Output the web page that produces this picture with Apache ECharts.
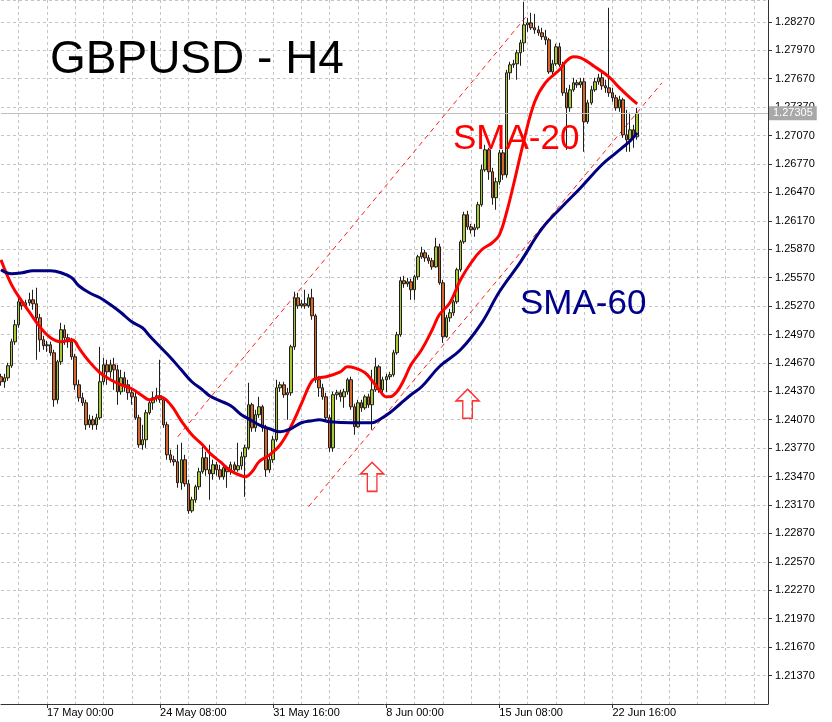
<!DOCTYPE html>
<html><head><meta charset="utf-8">
<script src="https://cdn.jsdelivr.net/npm/echarts@6/dist/echarts.min.js"></script>
<style>html,body{margin:0;padding:0;background:#fff}#c{width:832px;height:722px}</style>
</head><body><div id="c"></div>
<script>
// ---- data (GBPUSD H4) ----
const opens = [
1.24524,1.24471,1.24513,1.24640,1.24893,1.25072,1.25315,1.25273,1.25304,1.25336,
1.25294,1.25146,1.24914,1.24851,1.24861,1.24777,1.24281,1.24682,1.25020,1.24935,
1.24893,1.24735,1.24439,1.24302,1.24249,1.24017,1.24070,1.24017,1.24091,1.24471,
1.24650,1.24576,1.24650,1.24597,1.24365,1.24513,1.24439,1.24355,1.24312,1.24091,
1.23806,1.23859,1.24144,1.24249,1.24302,1.24323,1.24281,1.24017,1.23700,1.23648,
1.23627,1.23405,1.23648,1.23394,1.23109,1.23225,1.23363,1.23521,1.23669,1.23542,
1.23500,1.23595,1.23542,1.23468,1.23563,1.23521,1.23595,1.23542,1.23584,1.23679,
1.23774,1.24228,1.23985,1.24123,1.24207,1.23985,1.23542,1.23648,1.23859,1.24407,
1.24439,1.24334,1.24355,1.24840,1.25357,1.25273,1.25294,1.25273,1.25357,1.25167,
1.24492,1.24407,1.24312,1.24091,1.23774,1.24334,1.24355,1.24312,1.24365,1.24492,
1.24207,1.23996,1.24249,1.24196,1.24312,1.24228,1.24386,1.24629,1.24386,1.24492,
1.24524,1.24545,1.24777,1.24967,1.25537,1.25505,1.25526,1.25442,1.25579,1.25790,
1.25832,1.25779,1.25748,1.25684,1.25895,1.25515,1.24946,1.25146,1.25199,1.25315,
1.25653,1.25948,1.26233,1.26106,1.26075,1.26096,1.26339,1.26708,1.26919,1.26687,
1.26413,1.26581,1.26887,1.26655,1.27732,1.27816,1.27827,1.27943,1.28048,1.28238,
1.28259,1.28207,1.28185,1.28154,1.28112,1.28080,1.27742,1.27827,1.28006,1.27816,
1.27521,1.27362,1.27552,1.27626,1.27605,1.27637,1.27215,1.27415,1.27552,1.27637,
1.27679,1.27594,1.27573,1.27521,1.27468,1.27362,1.27447,1.27077,1.27025,1.27130,1.27056];
const closes = [
1.24471,1.24513,1.24640,1.24893,1.25072,1.25315,1.25273,1.25304,1.25336,1.25294,
1.25146,1.24914,1.24851,1.24861,1.24777,1.24281,1.24682,1.25020,1.24935,1.24893,
1.24735,1.24439,1.24302,1.24249,1.24017,1.24070,1.24017,1.24091,1.24471,1.24650,
1.24576,1.24650,1.24597,1.24365,1.24513,1.24439,1.24355,1.24312,1.24091,1.23806,
1.23859,1.24144,1.24249,1.24302,1.24323,1.24281,1.24017,1.23700,1.23648,1.23627,
1.23405,1.23648,1.23394,1.23109,1.23225,1.23363,1.23521,1.23669,1.23542,1.23500,
1.23595,1.23542,1.23468,1.23563,1.23521,1.23595,1.23542,1.23584,1.23679,1.23774,
1.24228,1.23985,1.24123,1.24207,1.23985,1.23542,1.23648,1.23859,1.24407,1.24439,
1.24334,1.24355,1.24840,1.25357,1.25273,1.25294,1.25273,1.25357,1.25167,1.24492,
1.24407,1.24312,1.24091,1.23774,1.24334,1.24355,1.24312,1.24365,1.24492,1.24207,
1.23996,1.24249,1.24196,1.24312,1.24228,1.24386,1.24629,1.24386,1.24492,1.24524,
1.24545,1.24777,1.24967,1.25537,1.25505,1.25526,1.25442,1.25579,1.25790,1.25832,
1.25779,1.25748,1.25684,1.25895,1.25515,1.24946,1.25146,1.25199,1.25315,1.25653,
1.25948,1.26233,1.26106,1.26075,1.26096,1.26339,1.26708,1.26919,1.26687,1.26413,
1.26581,1.26887,1.26655,1.27732,1.27816,1.27827,1.27943,1.28048,1.28238,1.28259,
1.28207,1.28185,1.28154,1.28112,1.28080,1.27742,1.27827,1.28006,1.27816,1.27521,
1.27362,1.27552,1.27626,1.27605,1.27637,1.27215,1.27415,1.27552,1.27637,1.27679,
1.27594,1.27573,1.27521,1.27468,1.27362,1.27447,1.27077,1.27025,1.27130,1.27056,1.27305];
const lows = [
1.24429,1.24407,1.24481,1.24618,1.24861,1.25041,1.25231,1.25241,1.25273,1.25231,
1.24703,1.24787,1.24808,1.24787,1.24745,1.24207,1.24239,1.24650,1.24861,1.24830,
1.24703,1.24386,1.24260,1.24217,1.23964,1.23985,1.23964,1.23964,1.24070,1.24439,
1.24439,1.24513,1.24386,1.24228,1.24334,1.24365,1.24281,1.24228,1.24070,1.23774,
1.23753,1.23774,1.24123,1.24175,1.24260,1.24249,1.23985,1.23648,1.23616,1.23584,
1.23352,1.23331,1.23363,1.23078,1.23088,1.23194,1.23331,1.23500,1.23479,1.23225,
1.23437,1.23479,1.23437,1.23437,1.23352,1.23489,1.23510,1.23521,1.23542,1.23257,
1.23753,1.23943,1.23943,1.24091,1.23943,1.23468,1.23510,1.23616,1.23838,1.24365,
1.24302,1.24070,1.24323,1.24808,1.25241,1.25252,1.25241,1.25252,1.25125,1.24460,
1.24312,1.24281,1.24059,1.23732,1.23732,1.24281,1.24260,1.24196,1.24334,1.24175,
1.23911,1.23985,1.24154,1.24175,1.24196,1.23964,1.24365,1.24355,1.24355,1.24365,
1.24492,1.24524,1.24756,1.24946,1.25463,1.25473,1.25336,1.25336,1.25547,1.25769,
1.25737,1.25716,1.25653,1.25674,1.25494,1.24882,1.24935,1.25104,1.25167,1.25294,
1.25632,1.25927,1.26075,1.26033,1.26001,1.26075,1.26318,1.26687,1.26602,1.26339,
1.26286,1.26550,1.26602,1.26624,1.27658,1.27784,1.27658,1.27806,1.27953,1.28164,
1.28185,1.28143,1.28122,1.28080,1.28027,1.27721,1.27711,1.27806,1.27795,1.27489,
1.26919,1.27320,1.27531,1.27573,1.27573,1.26898,1.27193,1.27394,1.27531,1.27605,
1.27552,1.27521,1.27478,1.27426,1.27331,1.27320,1.27046,1.26898,1.26898,1.26940,1.27025];
const highs = [
1.24555,1.24555,1.24671,1.24925,1.25125,1.25368,1.25347,1.25336,1.25410,1.25442,
1.25463,1.25188,1.24956,1.24903,1.24893,1.24808,1.24703,1.25093,1.25072,1.24977,
1.24935,1.24766,1.24492,1.24355,1.24281,1.24123,1.24112,1.24133,1.24840,1.24724,
1.24703,1.24703,1.24724,1.24650,1.24597,1.24576,1.24492,1.24407,1.24365,1.24123,
1.24017,1.24175,1.24281,1.24365,1.24407,1.24703,1.24302,1.24049,1.23753,1.23690,
1.23806,1.23827,1.23700,1.23437,1.23257,1.23384,1.23563,1.23785,1.23732,1.23806,
1.23648,1.23627,1.23595,1.23595,1.23584,1.23627,1.23627,1.23827,1.23732,1.23806,
1.24460,1.24249,1.24175,1.24312,1.24228,1.24017,1.23700,1.23901,1.24492,1.24471,
1.24471,1.24407,1.24861,1.25421,1.25410,1.25336,1.25442,1.25399,1.25452,1.25188,
1.24534,1.24450,1.24355,1.24123,1.24365,1.24386,1.24386,1.24397,1.24513,1.24524,
1.24239,1.24281,1.24281,1.24334,1.24344,1.24597,1.24724,1.24650,1.24524,1.24555,
1.24576,1.24808,1.24998,1.25579,1.25589,1.25568,1.25558,1.25600,1.25811,1.25895,
1.25864,1.25811,1.25779,1.25990,1.25927,1.25547,1.25178,1.25241,1.25336,1.25674,
1.25969,1.26265,1.26275,1.26138,1.26138,1.26370,1.26761,1.26972,1.26940,1.26729,
1.26624,1.26919,1.26919,1.27763,1.27848,1.27869,1.27974,1.28080,1.28481,1.28312,
1.28365,1.28354,1.28228,1.28207,1.28185,1.28101,1.27869,1.28038,1.28048,1.27848,
1.27573,1.27605,1.27679,1.27658,1.27679,1.27679,1.27447,1.27594,1.27679,1.27721,
1.27732,1.27658,1.28418,1.27573,1.27499,1.27489,1.27468,1.27341,1.27310,1.27183,1.27362];

// moving averages: [bar index, price]
const sma20 = [[0,1.25758],[3,1.25494],[6,1.25315],[8,1.25209],[11,1.25051],[14,1.24935],[17,1.24893],[20,1.24914],[21,1.24893],[22,1.24830],[25,1.24682],[28,1.24566],[31,1.24492],[34,1.24439],[37,1.24397],[40,1.24323],[42,1.24281],[45,1.24312],[48,1.24228],[51,1.24059],[54,1.23911],[57,1.23806],[59,1.23721],[62,1.23627],[65,1.23531],[68,1.23479],[69,1.23468],[71,1.23521],[73,1.23627],[76,1.23700],[79,1.23806],[82,1.23996],[85,1.24239],[88,1.24481],[90,1.24513],[92,1.24524],[96,1.24576],[98,1.24629],[100,1.24618],[103,1.24566],[105,1.24481],[107,1.24386],[109,1.24312],[110,1.24312],[112,1.24365],[114,1.24492],[116,1.24650],[119,1.24808],[122,1.25020],[124,1.25178],[127,1.25304],[130,1.25547],[133,1.25727],[136,1.25864],[139,1.25938],[141,1.26022],[143,1.26254],[145,1.26550],[148,1.27025],[151,1.27426],[154,1.27626],[158,1.27763],[160,1.27858],[162,1.27900],[164,1.27890],[168,1.27795],[172,1.27689],[175,1.27573],[178,1.27468],[180,1.27404]];
const sma60 = [[0,1.25653],[3,1.25610],[6,1.25621],[9,1.25642],[14,1.25642],[17,1.25621],[20,1.25568],[22,1.25484],[25,1.25410],[28,1.25357],[31,1.25283],[34,1.25199],[37,1.25104],[40,1.25041],[42,1.24956],[45,1.24840],[48,1.24724],[51,1.24597],[54,1.24471],[57,1.24386],[59,1.24323],[62,1.24270],[65,1.24217],[68,1.24123],[71,1.24059],[73,1.24017],[76,1.23975],[79,1.23943],[82,1.23975],[85,1.24038],[88,1.24059],[90,1.24070],[93,1.24049],[99,1.24038],[105,1.24038],[107,1.24070],[110,1.24144],[113,1.24239],[116,1.24334],[119,1.24418],[124,1.24629],[130,1.24808],[136,1.25093],[141,1.25421],[147,1.25737],[153,1.26085],[159,1.26328],[164,1.26518],[170,1.26761],[174,1.26887],[178,1.27014],[180,1.27098]];

const lastPrice = 1.27305;
const upperChannel = [[50,1.23890],[149,1.28344]];
const lowerChannel = [[87,1.23152],[187,1.27626]];
const arrowMarks = [[105,1.23468],[132,1.24239]];
const yMin = 1.2107, yMax = 1.2850, yStep = 0.003;
const totalSlots = 218;          // bars + empty right shift
const firstLabelBar = 13, labelEvery = 32, gridEvery = 8;

// ---- category labels: 4-hour bars, weekends skipped ----
const monthNames = ['Jan','Feb','Mar','Apr','May','Jun','Jul','Aug','Sep','Oct','Nov','Dec'];
const cats = [];
let t = Date.UTC(2023, 4, 12, 20);
while (cats.length < totalSlots) {
  const d = new Date(t);
  const wd = d.getUTCDay();
  if (wd !== 0 && wd !== 6) {
    const hh = String(d.getUTCHours()).padStart(2, '0');
    cats.push(d.getUTCDate() + ' ' + monthNames[d.getUTCMonth()] + ' ' + hh + ':00');
  }
  t += 4 * 3600 * 1000;
}
const nBars = opens.length;
const ohlc = opens.map((o, i) => [o, closes[i], lows[i], highs[i]]);

const isLabel = i => i < nBars && i >= firstLabelBar && (i - firstLabelBar) % labelEvery === 0;
const isGrid = i => ((i - firstLabelBar) % gridEvery + gridEvery) % gridEvery === 0;

const chart = echarts.init(document.getElementById('c'), null, {renderer: 'canvas'});
const arrowPath = 'path://M12,0 L24,12 L17,12 L17,30 L7,30 L7,12 L0,12 Z';

chart.setOption({
  animation: false,
  backgroundColor: '#ffffff',
  textStyle: {fontFamily: 'Liberation Sans, Arial, sans-serif'},
  title: [
    {text: 'GBPUSD - H4', left: 50, top: 37, padding: 0,
     textStyle: {fontSize: 46, fontWeight: 'normal', color: '#000', fontFamily: 'Liberation Sans'}},
    {text: 'SMA-20', left: 453, top: 122, padding: 0,
     textStyle: {fontSize: 35, fontWeight: 'normal', color: '#ff0000', fontFamily: 'Liberation Sans'}},
    {text: 'SMA-60', left: 520, top: 287, padding: 0,
     textStyle: {fontSize: 35, fontWeight: 'normal', color: '#00008b', fontFamily: 'Liberation Sans'}}
  ],
  grid: {left: 1, right: 64, top: 0, bottom: 18, containLabel: false},
  xAxis: {
    type: 'category', data: cats, boundaryGap: false,
    axisLine: {show: true, lineStyle: {color: '#333', width: 1}},
    axisTick: {show: true, interval: i => isLabel(i), length: 4, lineStyle: {color: '#333'}},
    axisLabel: {interval: i => isLabel(i), align: 'left', margin: 3, fontSize: 11, color: '#000',
                fontFamily: 'Liberation Sans'},
    splitLine: {show: true, interval: i => isGrid(i), lineStyle: {color: '#c4c4c4', type: [3, 3], width: 1}}
  },
  yAxis: {
    type: 'value', position: 'right', min: yMin, max: yMax, interval: yStep, scale: true,
    axisLine: {show: true, lineStyle: {color: '#333', width: 1}},
    axisTick: {show: true, length: 4, lineStyle: {color: '#333'}},
    axisLabel: {margin: 7, fontSize: 11, color: '#000', fontFamily: 'Liberation Sans',
                showMinLabel: false, showMaxLabel: false, formatter: v => v.toFixed(5)},
    splitLine: {show: true, lineStyle: {color: '#c4c4c4', type: [3, 3], width: 1}}
  },
  series: [
    {
      type: 'candlestick', data: ohlc, barWidth: 3,
      itemStyle: {color: '#a6c832', color0: '#d8652a', borderColor: '#1e1e1e', borderColor0: '#1e1e1e', borderWidth: 1},
      z: 3
    },
    {type: 'line', data: upperChannel, symbol: 'none', silent: true,
     lineStyle: {color: '#ff2020', width: 1, type: [5, 4]}, z: 2,
     markLine: {
        silent: true, symbol: 'none', precision: 5,
        data: [{yAxis: lastPrice}],
        lineStyle: {color: '#c0c0c0', type: 'solid', width: 1},
        label: {show: true, position: 'end', distance: 1, formatter: () => lastPrice.toFixed(5),
                backgroundColor: '#a8a8a8', color: '#fff', padding: [2, 4, 1, 4], fontSize: 11,
                fontFamily: 'Liberation Sans'}
     }},
    {type: 'line', data: lowerChannel, symbol: 'none', silent: true,
     lineStyle: {color: '#ff2020', width: 1, type: [5, 4]}, z: 2},
    {type: 'line', name: 'SMA-20', data: sma20, smooth: 0.4, symbol: 'none', silent: true,
     lineStyle: {color: '#ff0000', width: 3}, z: 5},
    {type: 'line', name: 'SMA-60', data: sma60, smooth: 0.4, symbol: 'none', silent: true,
     lineStyle: {color: '#000080', width: 3}, z: 5},
    {type: 'scatter', data: arrowMarks, symbol: arrowPath, symbolSize: [23, 29], silent: true,
     itemStyle: {color: 'rgba(255,255,255,0)', borderColor: '#ff0000', borderWidth: 1.5}, z: 6}
  ]
});
</script></body></html>
